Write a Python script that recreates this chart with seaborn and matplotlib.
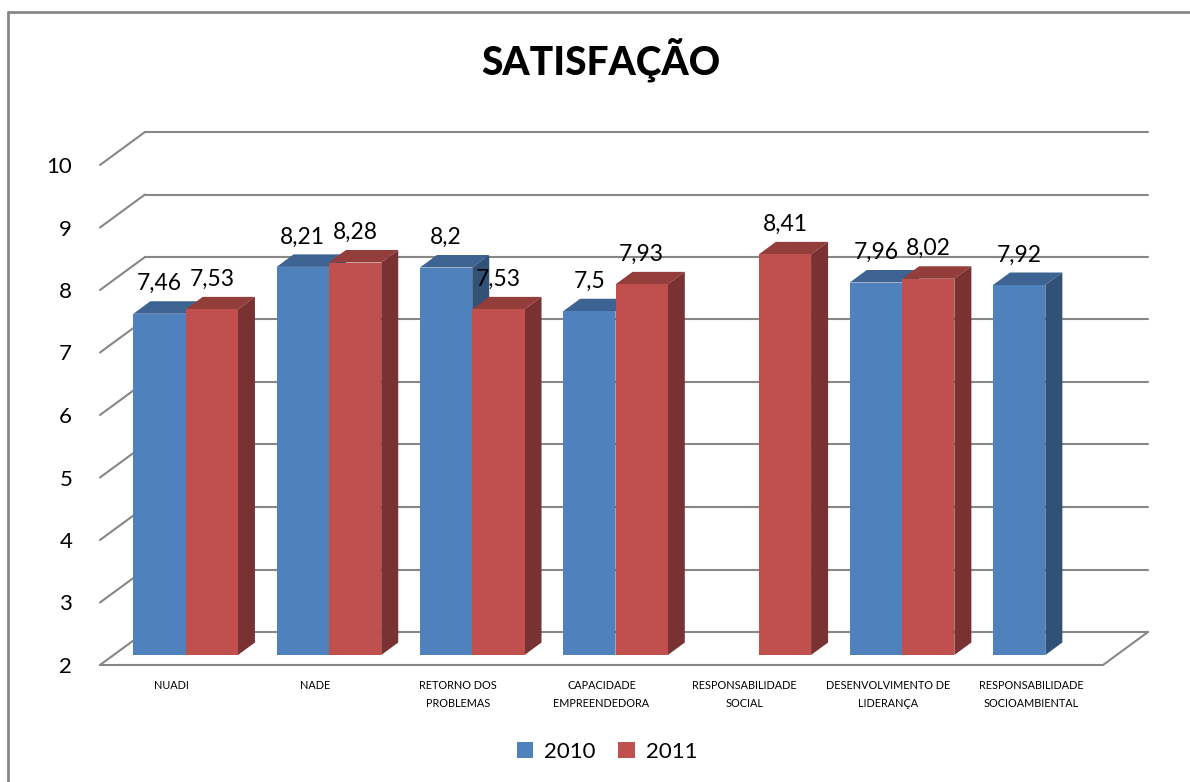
import numpy as np
import pandas as pd
import matplotlib
matplotlib.use('Agg')
import matplotlib.pyplot as plt
from matplotlib.patches import Polygon, Patch
from matplotlib.lines import Line2D
import seaborn as sns

categories = ['NUADI', 'NADE', 'RETORNO DOS\nPROBLEMAS', 'CAPACIDADE\nEMPREENDEDORA',
              'RESPONSABILIDADE\nSOCIAL', 'DESENVOLVIMENTO DE\nLIDERANÇA',
              'RESPONSABILIDADE\nSOCIOAMBIENTAL']
years = ['2010', '2011']
vals_2010 = [7.46, 8.21, 8.2, 7.5, None, 7.96, 7.92]
vals_2011 = [7.53, 8.28, 7.53, 7.93, 8.41, 8.02, None]
y_ticks = [2, 3, 4, 5, 6, 7, 8, 9, 10]
colors = ['#4f81bd', '#c0504d']

rows = []
for cat, a, b in zip(categories, vals_2010, vals_2011):
    rows.append({'cat': cat, 'year': '2010', 'val': a})
    rows.append({'cat': cat, 'year': '2011', 'val': b})
df = pd.DataFrame(rows).dropna()

sns.set_style('white')
plt.rcParams['font.family'] = ['Lato', 'DejaVu Sans']
plt.rcParams['text.color'] = 'black'
plt.rcParams['xtick.color'] = 'black'
plt.rcParams['ytick.color'] = 'black'

W, H = 1190, 782
fig = plt.figure(figsize=(W / 100, H / 100), dpi=100)

# front plane of the 3D box: x 100..1103 px, y 665 (value 2) .. 165 (value 10)
left, right, bot, top = 100, 1103, 665, 165
pos = [left / W, 1 - bot / H, (right - left) / W, (bot - top) / H]
ax = fig.add_axes(pos)
ax.set_xlim(-0.5, 6.5)
ax.set_ylim(2, 10)
for s in ax.spines.values():
    s.set_visible(False)

px_x = (right - left) / 7.0
px_y = (bot - top) / 8.0
back_dx = 45 / px_x
back_dy = 33 / px_y
grid_c = '#878787'
x0, x1 = -0.5, 6.5
for v in y_ticks:
    ax.plot([x0, x0 + back_dx], [v, v + back_dy], color=grid_c, lw=1.5, clip_on=False, zorder=1)
    ax.plot([x0 + back_dx, x1 + back_dx], [v + back_dy, v + back_dy], color=grid_c, lw=1.5,
            clip_on=False, zorder=1)
ax.plot([x0, x1, x1 + back_dx], [2, 2, 2 + back_dy], color=grid_c, lw=1.5, clip_on=False, zorder=1)

ax.set_xticks(range(len(categories)))
ax.set_xticklabels(categories, fontsize=7.8, linespacing=1.75)
ax.set_yticks(y_ticks)
ax.set_yticklabels([str(v) for v in y_ticks], fontsize=16)
ax.tick_params(axis='x', length=0, pad=11)
ax.tick_params(axis='y', length=0, pad=20)

# bars sit a bit deeper in the box
ax_bar = fig.add_axes([(left + 14) / W, 1 - (bot - 10) / H, (right - left) / W, (bot - top) / H])
ax_bar.patch.set_alpha(0)
sns.barplot(data=df, x='cat', y='val', hue='year', order=categories, hue_order=years,
            palette=colors, width=0.73, saturation=1, legend=False, ax=ax_bar, zorder=3)
ax_bar.set_xlim(-0.5, 6.5)
ax_bar.set_ylim(2, 10)
ax_bar.set_axis_off()

ddx = 17 / px_x
ddy = 12.5 / px_y
bars = sorted([p for p in ax_bar.patches if not np.isnan(p.get_height())], key=lambda p: p.get_x())
for p in bars:
    bx, w, h = p.get_x(), p.get_width(), p.get_height()
    c = np.array(p.get_facecolor()[:3])
    top_poly = Polygon([(bx, h), (bx + w, h), (bx + w + ddx, h + ddy), (bx + ddx, h + ddy)],
                       closed=True, facecolor=c * 0.77, edgecolor='none', zorder=2, clip_on=False)
    side_poly = Polygon([(bx + w, 2), (bx + w, h), (bx + w + ddx, h + ddy), (bx + w + ddx, 2 + ddy)],
                        closed=True, facecolor=c * 0.63, edgecolor='none', zorder=2, clip_on=False)
    ax_bar.add_patch(top_poly)
    ax_bar.add_patch(side_poly)
    p.set_edgecolor('none')
    lab = ('%g' % h).replace('.', ',')
    ax_bar.annotate(lab, (bx + w / 2, h + ddy), xytext=(0, 5), textcoords='offset points',
                    ha='center', va='bottom', fontsize=16.5, color='black', zorder=5,
                    annotation_clip=False)

fig.text(601 / W, 1 - 60 / H, 'SATISFAÇÃO', ha='center', va='center', fontsize=28,
         fontweight='black', color='black')

handles = [Patch(facecolor=c, edgecolor='none') for c in colors]
fig.legend(handles, years, loc='center', bbox_to_anchor=(607 / W, 1 - 752 / H), ncol=2,
           frameon=False, fontsize=16, handlelength=0.75, handleheight=0.75, handletextpad=0.5,
           columnspacing=1.0)

# chart border (left and top edges visible)
fig.add_artist(Line2D([8 / W, 8 / W], [0, 1 - 12 / H], color=grid_c, lw=2, transform=fig.transFigure))
fig.add_artist(Line2D([8 / W, 1], [1 - 12 / H, 1 - 12 / H], color=grid_c, lw=2, transform=fig.transFigure))

fig.savefig('out.png', dpi=100)
